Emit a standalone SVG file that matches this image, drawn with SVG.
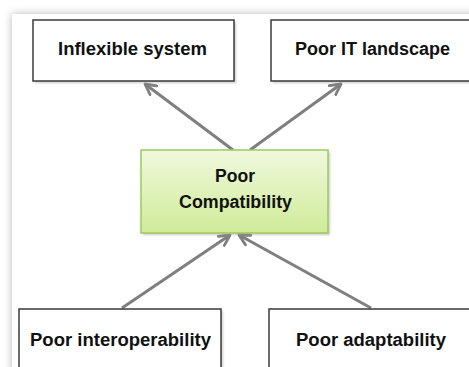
<svg xmlns="http://www.w3.org/2000/svg" width="469" height="367" viewBox="0 0 469 367">
  <defs>
    <filter id="pageShadow" x="-10%" y="-10%" width="120%" height="120%">
      <feGaussianBlur stdDeviation="4"/>
    </filter>
    <filter id="boxShadow" x="-10%" y="-10%" width="130%" height="130%">
      <feGaussianBlur stdDeviation="1"/>
    </filter>
    <linearGradient id="green" x1="0" y1="0" x2="0" y2="1">
      <stop offset="0" stop-color="#f0f9de"/>
      <stop offset="1" stop-color="#cfeb98"/>
    </linearGradient>
    <marker id="arrow" viewBox="0 0 14 14" refX="12" refY="7" markerWidth="14" markerHeight="14" markerUnits="userSpaceOnUse" orient="auto">
      <path d="M1.5,1.5 L12,7 L1.5,12.5" fill="none" stroke="#7f7f7f" stroke-width="2.8" stroke-linecap="round" stroke-linejoin="round"/>
    </marker>
    <style>
      .box { fill: #ffffff; stroke: #3a3a3a; stroke-width: 1.5; }
      .shadow { fill: #9a9a9a; opacity: 0.5; filter: url(#boxShadow); }
      .lbl { font-family: "Liberation Sans", Arial, sans-serif; font-weight: bold; font-size: 17.5px; fill: #111111; }
      .conn { stroke: #7f7f7f; stroke-width: 3; fill: none; marker-end: url(#arrow); }
    </style>
  </defs>

  <rect x="0" y="0" width="469" height="367" fill="#ffffff"/>
  <rect x="12" y="14" width="480" height="380" fill="#b8b8b8" filter="url(#pageShadow)"/>
  <rect x="12" y="14" width="480" height="380" fill="#ffffff"/>

  <g id="connectors">
    <line class="conn" x1="233" y1="150" x2="145" y2="84"/>
    <line class="conn" x1="250" y1="150" x2="341" y2="84"/>
    <line class="conn" x1="122" y1="308" x2="230" y2="235"/>
    <line class="conn" x1="371" y1="308" x2="239" y2="235"/>
  </g>

  <g id="inflexible-system">
    <rect class="shadow" x="35" y="22" width="201" height="61"/>
    <rect class="box" x="33" y="20" width="201" height="61"/>
    <text class="lbl" x="58" y="55" textLength="149" lengthAdjust="spacingAndGlyphs">Inflexible  system</text>
  </g>

  <g id="poor-it-landscape">
    <rect class="shadow" x="273" y="22" width="210" height="61"/>
    <rect class="box" x="271" y="20" width="210" height="61"/>
    <text class="lbl" x="295" y="55" textLength="155" lengthAdjust="spacingAndGlyphs">Poor IT landscape</text>
  </g>

  <g id="poor-compatibility">
    <rect class="shadow" x="143" y="152" width="187" height="83"/>
    <rect x="141" y="150" width="187" height="83" fill="url(#green)" stroke="#9cc95e" stroke-width="1.5"/>
    <text class="lbl" x="215" y="182" textLength="40" lengthAdjust="spacingAndGlyphs">Poor</text>
    <text class="lbl" x="179" y="208" textLength="113" lengthAdjust="spacingAndGlyphs">Compatibility</text>
  </g>

  <g id="poor-interoperability">
    <rect class="shadow" x="21" y="311" width="202" height="70"/>
    <rect class="box" x="19" y="309" width="202" height="70"/>
    <text class="lbl" x="30" y="346" textLength="181" lengthAdjust="spacingAndGlyphs">Poor interoperability</text>
  </g>

  <g id="poor-adaptability">
    <rect class="shadow" x="271" y="311" width="210" height="70"/>
    <rect class="box" x="269" y="309" width="210" height="70"/>
    <text class="lbl" x="296" y="346" textLength="150" lengthAdjust="spacingAndGlyphs">Poor adaptability</text>
  </g>
</svg>
